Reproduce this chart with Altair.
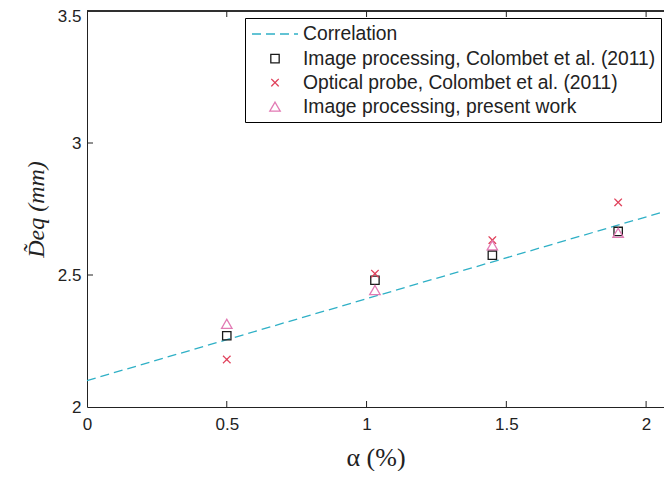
import altair as alt
import pandas as pd

# ---- data ----
series = [
    "Correlation",
    "Image processing, Colombet et al. (2011)",
    "Optical probe, Colombet et al. (2011)",
    "Image processing, present work",
]
alpha = [0.5, 1.03, 1.45, 1.9]
img_colombet = [2.27, 2.48, 2.575, 2.665]
optical = [2.18, 2.505, 2.632, 2.775]
present = [2.315, 2.443, 2.612, 2.66]
corr_x = [0.0, 2.064]
corr_y = [2.10, 2.740]

x_ticks = [0, 0.5, 1, 1.5, 2]
y_ticks = [2, 2.5, 3, 3.5]
x_dom = [0, 2.064]
y_dom = [2, 3.5]

colors = ["#2fb0c6", "#1a1a1a", "#e0405a", "#e27ab4"]
shapes = ["M-2.3,0L2.3,0", "square", "M-1,-1L1,1M1,-1L-1,1", "triangle-up"]
dashes = [[9, 5], [1, 0], [1, 0], [1, 0]]
sizes = [400, 70, 56, 110]

W, H = 577, 396

pts = pd.DataFrame(
    {
        "x": alpha * 3,
        "y": img_colombet + optical + present,
        "s": [series[1]] * 4 + [series[2]] * 4 + [series[3]] * 4,
    }
)
line_df = pd.DataFrame({"x": corr_x, "y": corr_y, "s": [series[0]] * 2})

xs = alt.Scale(domain=x_dom, nice=False, zero=False)
ys = alt.Scale(domain=y_dom, nice=False, zero=False)

legend = alt.Legend(
    title=None,
    orient="none",
    legendX=158,
    legendY=7,
    strokeColor="#000",
    fillColor="#fff",
    padding=5,
    labelFont="Liberation Sans",
    labelFontSize=19.3,
    labelColor="#222",
    labelLimit=600,
    labelOffset=17,
    symbolOffset=14,
    rowPadding=4,
    symbolStrokeWidth=1.3,
)

col = alt.Color("s:N", scale=alt.Scale(domain=series, range=colors), legend=legend)
shp = alt.Shape("s:N", scale=alt.Scale(domain=series, range=shapes), legend=legend)
dsh = alt.StrokeDash("s:N", scale=alt.Scale(domain=series, range=dashes), legend=legend)
siz = alt.Size(
    "s:N", scale=alt.Scale(type="ordinal", domain=series, range=sizes), legend=legend
)

xaxis = alt.Axis(
    values=x_ticks,
    format="~g",
    grid=False,
    ticks=False,
    labelFlush=False,
    labelPadding=9,
    labelFont="Liberation Sans",
    labelFontSize=17,
    labelColor="#222",
    domainColor="#222",
    title="α (%)",
    titleFont="Liberation Serif",
    titleFontSize=26,
    titleFontWeight="normal",
    titleColor="#222",
    titlePadding=12,
)
yaxis = alt.Axis(
    values=y_ticks,
    format="~g",
    grid=False,
    ticks=False,
    labelFlush=False,
    labelOffset=alt.condition("datum.value == 3.5", alt.value(5), alt.value(0)),
    labelPadding=6,
    labelFont="Liberation Sans",
    labelFontSize=17,
    labelColor="#222",
    domainColor="#222",
    title="D̃eq (mm)",
    titleFont="Liberation Serif",
    titleFontSize=24,
    titleFontStyle="italic",
    titleFontWeight="normal",
    titleColor="#222",
    titlePadding=9,
)

X = alt.X("x:Q", scale=xs, axis=xaxis)
Y = alt.Y("y:Q", scale=ys, axis=yaxis)

line = (
    alt.Chart(line_df)
    .mark_line(strokeWidth=1.3)
    .encode(x=X, y=Y, color=col, strokeDash=dsh)
)

points = (
    alt.Chart(pts)
    .mark_point(filled=False, strokeWidth=1.3, opacity=1)
    .encode(x=X, y=Y, color=col, shape=shp, strokeDash=dsh, size=siz)
)

xt = pd.DataFrame({"x": x_ticks[1:]})
yt = pd.DataFrame({"y": y_ticks[1:-1]})
tick_color = "#222"

bottom_ticks = (
    alt.Chart(xt)
    .mark_rule(color=tick_color, strokeWidth=1)
    .encode(x=X, y=alt.value(H), y2=alt.value(H - 6))
)
top_ticks = (
    alt.Chart(xt)
    .mark_rule(color=tick_color, strokeWidth=1)
    .encode(x=X, y=alt.value(0), y2=alt.value(6))
)
left_ticks = (
    alt.Chart(yt)
    .mark_rule(color=tick_color, strokeWidth=1)
    .encode(y=Y, x=alt.value(0), x2=alt.value(6))
)
top_border = (
    alt.Chart(xt)
    .mark_rule(color=tick_color, strokeWidth=1)
    .encode(x=alt.value(0), x2=alt.value(W), y=alt.value(0))
)

chart = (
    alt.layer(line, points, bottom_ticks, top_ticks, left_ticks, top_border)
    .properties(
        width=W,
        height=H,
        background="white",
        autosize=alt.AutoSizeParams(type="none"),
        padding={"left": 79, "top": 3, "right": 0, "bottom": 64},
    )
    .configure_view(stroke=None)
)

chart.save("out.html", embed_options={"renderer": "svg", "actions": False})
